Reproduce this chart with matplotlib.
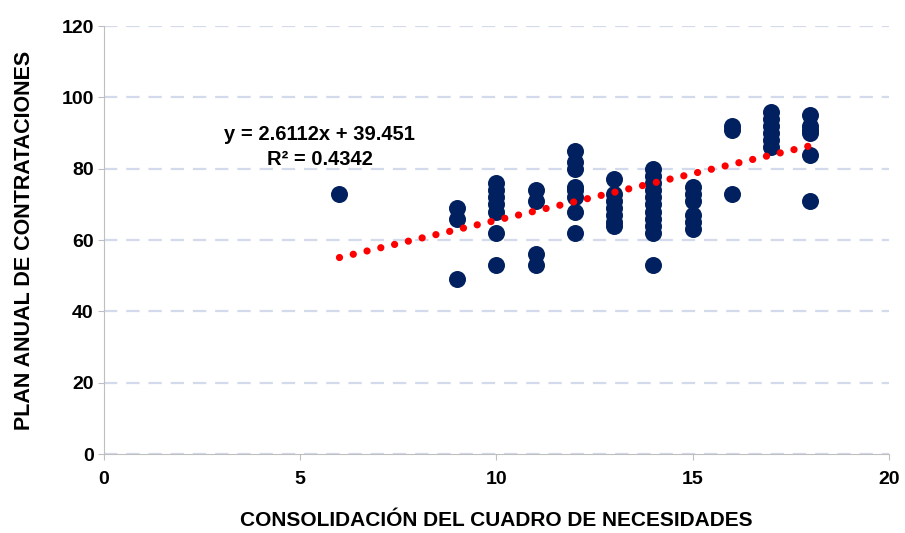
import matplotlib.pyplot as plt
import numpy as np

# datos
x_cons = [6,
          9, 9, 9,
          10, 10, 10, 10, 10, 10, 10,
          11, 11, 11, 11,
          12, 12, 12, 12, 12, 12, 12, 12,
          13, 13, 13, 13, 13, 13, 13,
          14, 14, 14, 14, 14, 14, 14, 14, 14, 14, 14,
          15, 15, 15, 15, 15, 15,
          16, 16, 16,
          17, 17, 17, 17, 17, 17,
          18, 18, 18, 18, 18, 18]
y_plan = [73,
          69, 66, 49,
          76, 74, 72, 70, 68, 62, 53,
          74, 71, 56, 53,
          85, 82, 80, 75, 74, 72, 68, 62,
          77, 73, 71, 69, 67, 65, 64,
          80, 78, 76, 74, 72, 70, 68, 66, 64, 62, 53,
          75, 73, 71, 67, 65, 63,
          92, 91, 73,
          96, 94, 92, 90, 88, 86,
          95, 92, 91, 90, 84, 71]

pendiente = 2.6112
intercepto = 39.451
r2 = 0.4342

plt.rcParams['font.family'] = ['Liberation Sans', 'DejaVu Sans']

fig = plt.figure(figsize=(9.05, 5.33), dpi=100)
ax = fig.add_axes([0.115, 0.148, 0.867, 0.803])

# linea de tendencia
xt = np.array([min(x_cons), max(x_cons)])
ax.plot(xt, pendiente * xt + intercepto, color='#FF0000', lw=5.2,
        linestyle=(0, (0.01, 1.95)), dash_capstyle='round', zorder=3)

ax.scatter(x_cons, y_plan, s=150, color='#002060', zorder=2, linewidths=0)

ax.text(5.5, 86, f'y = {pendiente}x + {intercepto}\nR² = {r2}', ha='center', va='center',
        fontsize=14.5, fontweight='bold', linespacing=1.4)

ax.set_xlim(0, 20)
ax.set_ylim(0, 120)
ax.set_xticks([0, 5, 10, 15, 20])
ax.set_yticks(range(0, 121, 20))
ax.yaxis.grid(True, color='#D3DAEC', linestyle=(0, (6, 4)), linewidth=1.6)
ax.set_axisbelow(True)
for s in ['top', 'right']:
    ax.spines[s].set_visible(False)
for s in ['left', 'bottom']:
    ax.spines[s].set_color('#BFBFBF')
ax.tick_params(axis='both', labelsize=14, length=4, color='#BFBFBF')
ax.tick_params(axis='x', pad=8)
for lb in ax.get_xticklabels() + ax.get_yticklabels():
    lb.set_fontweight('bold')

ax.set_xlabel('CONSOLIDACIÓN DEL CUADRO DE NECESIDADES', fontsize=15, fontweight='bold', labelpad=17)
ax.set_ylabel('PLAN ANUAL DE CONTRATACIONES', fontsize=15.5, fontweight='bold', labelpad=19)

fig.savefig('out.png', dpi=100)
